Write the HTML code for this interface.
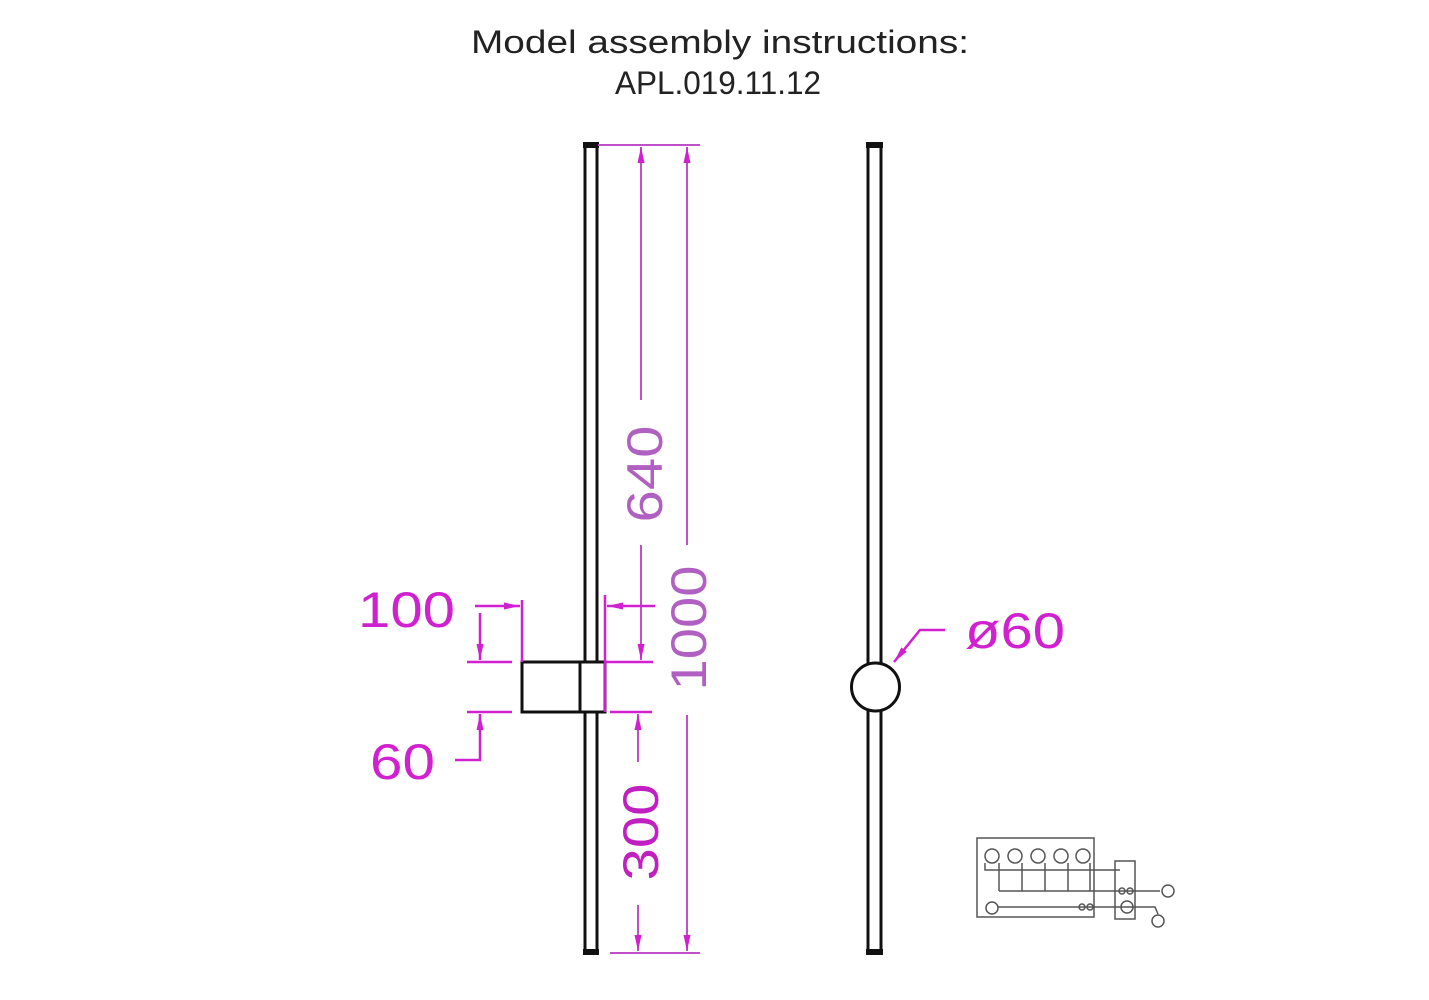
<!DOCTYPE html>
<html><head><meta charset="utf-8"><style>
html,body{margin:0;padding:0;background:#fff;width:1429px;height:1000px;overflow:hidden}
svg{display:block}
text{font-family:"Liberation Sans",sans-serif}
</style></head><body>
<svg width="1429" height="1000" viewBox="0 0 1429 1000" xmlns="http://www.w3.org/2000/svg">
<defs>
<marker id="a" viewBox="0 0 16 8" refX="16" refY="4" markerWidth="16" markerHeight="8" orient="auto" markerUnits="userSpaceOnUse">
<path d="M0,0.5 L16,4 L0,7.5 z" fill="#d020d0"/></marker>
</defs>
<text x="720" y="53" font-size="32" text-anchor="middle" fill="#222" textLength="498" lengthAdjust="spacingAndGlyphs">Model assembly instructions:</text>
<text x="718" y="94" font-size="32" text-anchor="middle" fill="#222" textLength="206" lengthAdjust="spacingAndGlyphs">APL.019.11.12</text>

<g fill="none" stroke="#111" stroke-width="3">
<rect x="585" y="145" width="12" height="807"/>
<rect x="522" y="662" width="83" height="50" fill="#fff"/>
<line x1="580" y1="662" x2="580" y2="712"/>
<rect x="868" y="145" width="13" height="807"/>
<circle cx="875.5" cy="687" r="24" fill="#fff"/>
</g>
<rect x="583" y="142" width="16" height="6" fill="#111"/>
<rect x="583" y="949" width="16" height="6" fill="#111"/>
<rect x="866" y="142" width="17" height="6" fill="#111"/>
<rect x="866" y="949" width="17" height="6" fill="#111"/>

<g stroke="#c050c8" stroke-width="2" fill="none">
<line x1="598" y1="145" x2="700" y2="145"/>
<line x1="610" y1="953" x2="700" y2="953"/>
<line x1="641" y1="400" x2="641" y2="147" marker-end="url(#a)"/>
<line x1="641" y1="545" x2="641" y2="660" marker-end="url(#a)"/>
<line x1="687" y1="545" x2="687" y2="147" marker-end="url(#a)"/>
<line x1="687" y1="715" x2="687" y2="951" marker-end="url(#a)"/>
<line x1="638" y1="762" x2="638" y2="714" marker-end="url(#a)"/>
<line x1="638" y1="905" x2="638" y2="951" marker-end="url(#a)"/>
</g>
<g stroke="#d020d0" stroke-width="2.5" fill="none">
<line x1="605" y1="662" x2="653" y2="662"/>
<line x1="610" y1="712" x2="652" y2="712"/>
<line x1="467" y1="662" x2="512" y2="662"/>
<line x1="467" y1="712" x2="512" y2="712"/>
<line x1="522" y1="600" x2="522" y2="662"/>
<line x1="605" y1="595" x2="605" y2="712"/>
<line x1="475" y1="606" x2="520" y2="606" marker-end="url(#a)"/>
<line x1="655" y1="606" x2="607" y2="606" marker-end="url(#a)"/>
<line x1="480" y1="613" x2="480" y2="660" marker-end="url(#a)"/>
<polyline points="455,760 480,760 480,714" marker-end="url(#a)"/>
<polyline points="945,630 920,630 894,662" marker-end="url(#a)"/>
</g>
<g fill="#d020d0" font-size="50">
<text x="358" y="627" textLength="97" lengthAdjust="spacingAndGlyphs">100</text>
<text x="370" y="779" textLength="65" lengthAdjust="spacingAndGlyphs">60</text>
<text x="965" y="648" textLength="100" lengthAdjust="spacingAndGlyphs">ø60</text>
</g>
<text transform="translate(662,474) rotate(-90)" font-size="50" text-anchor="middle" fill="#b060c0" textLength="97" lengthAdjust="spacingAndGlyphs">640</text>
<text transform="translate(706,628) rotate(-90)" font-size="50" text-anchor="middle" fill="#b060c0" textLength="125" lengthAdjust="spacingAndGlyphs">1000</text>
<text transform="translate(658,832) rotate(-90)" font-size="50" text-anchor="middle" fill="#c020c0" textLength="97" lengthAdjust="spacingAndGlyphs">300</text>

<g stroke="#555" stroke-width="1.5" fill="none">
<rect x="977" y="838" width="117" height="79"/>
<rect x="1115" y="861" width="20" height="58"/>
<g fill="#fff">
<circle cx="992" cy="856" r="7"/><circle cx="1015" cy="856" r="7"/><circle cx="1038" cy="856" r="7"/><circle cx="1061" cy="856" r="7"/><circle cx="1083" cy="856" r="7"/>
<circle cx="992" cy="908" r="6"/>
</g>
<polyline points="985,863 985,870 1120,870"/>
<line x1="999" y1="863" x2="999" y2="891"/>
<line x1="1022" y1="863" x2="1022" y2="891"/>
<line x1="1045" y1="863" x2="1045" y2="891"/>
<line x1="1068" y1="863" x2="1068" y2="891"/>
<line x1="1090" y1="863" x2="1090" y2="891"/>
<line x1="999" y1="891" x2="1160" y2="891"/>
<line x1="998" y1="907" x2="1125" y2="907"/>
<polyline points="1125,907 1155,907 1158,914"/>
<circle cx="1122" cy="891" r="3"/><circle cx="1130" cy="891" r="3"/>
<circle cx="1082" cy="907" r="3"/><circle cx="1090" cy="907" r="3"/>
<circle cx="1127" cy="907" r="6"/>
<circle cx="1168" cy="891" r="6" fill="#fff"/>
<circle cx="1158" cy="921" r="6" fill="#fff"/>
</g>
</svg>
</body></html>
